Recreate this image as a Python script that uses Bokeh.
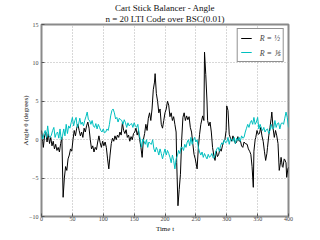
from bokeh.plotting import figure
from bokeh.models import Range1d, Title, Legend, LegendItem, FixedTicker
from bokeh.embed import file_html
from bokeh.resources import INLINE

# ---- data ----
t_half = [0, 2, 3, 5, 7, 9, 11, 13, 15, 17, 19, 21, 23, 25, 27, 29, 31, 33, 35, 37,
          39, 41, 43, 45, 47, 49, 51, 53, 55, 57, 59, 61, 63, 65, 67, 69, 71, 73, 75, 77,
          79, 81, 83, 85, 87, 89, 91, 93, 95, 97, 99, 101, 103, 105, 107, 109, 111, 113, 115, 117,
          119, 121, 123, 125, 127, 129, 131, 133, 135, 137, 139, 141, 143, 145, 147, 149, 151, 153, 155, 157,
          159, 161, 163, 165, 167, 169, 171, 173, 175, 177, 179, 181, 183, 184, 186, 188, 190, 192, 194, 196,
          198, 200, 202, 204, 206, 208, 210, 212, 214, 216, 218, 219, 221, 223, 225, 227, 229, 231, 233, 235,
          237, 239, 241, 243, 245, 247, 249, 252, 254, 256, 258, 261, 263, 264, 266, 268, 269, 271, 273, 275,
          277, 279, 281, 283, 285, 287, 289, 291, 293, 295, 297, 299, 300, 302, 304, 306, 308, 310, 312, 314,
          316, 318, 320, 322, 324, 326, 328, 330, 333, 335, 337, 339, 341, 343, 344, 346, 347, 349, 351, 353,
          355, 357, 359, 361, 363, 365, 366, 368, 370, 372, 373, 375, 377, 379, 381, 383, 385, 387, 388, 390,
          391, 393, 394, 396, 397, 399, 400]
angle_half = [1.2, -0.2, -1.0, 0.5, 1.0, -0.3, 0.8, -0.5, 0.3, -0.8, -0.2, -1.2, -0.6, -1.4, -1.0, -1.6, -0.5, 0.3, -7.5, -5.0,
              -3.5, -4.0, -2.5, -2.0, -1.2, -1.5, 0.0, 1.2, 0.5, 1.5, 2.0, 1.2, 0.5, 1.0, 0.3, 1.5, 1.0, 1.8, 2.3, 1.5,
              0.0, -1.2, -0.8, -1.6, -1.0, -1.3, -0.3, 0.5, -0.4, -1.0, -0.2, -0.8, -0.3, -1.0, -2.5, -3.8, -2.0, -0.5, 0.2, -0.2,
              0.5, 0.0, 0.6, 0.3, 1.0, 0.6, 2.2, 1.2, 0.8, 1.3, 0.3, 0.6, -0.2, 0.4, 0.0, 0.8, 1.0, 1.5, 0.6, 1.2,
              0.0, -1.0, -2.3, 0.0, 0.8, 2.0, 1.2, 2.8, 3.5, 2.5, 4.0, 6.5, 7.5, 8.6, 6.0, 5.0, 3.5, 4.0, 2.0, 1.5,
              2.5, 3.5, 4.0, 5.0, 4.5, 3.0, 3.5, 2.5, 3.0, 2.0, 1.0, -3.0, -8.6, -6.5, -4.5, 0.0, 2.9, 3.5, 2.5, 3.1,
              2.6, 3.0, 1.6, 1.0, -0.5, -1.9, -2.5, -3.8, -1.0, 0.7, 2.0, 3.1, 2.5, 11.4, 8.5, 5.0, 2.5, 1.8, 2.3, 1.0,
              -1.0, -2.0, -2.7, -1.5, -2.2, -1.9, -1.2, -1.5, -0.8, -0.2, 0.0, 1.2, 4.4, 3.8, 0.7, 0.2, -0.2, 0.5, 0.0, -0.5,
              -0.3, 0.4, -0.2, -0.1, -0.8, -1.0, -0.3, -0.5, -0.6, -1.2, -1.5, -1.9, -3.5, -6.2, -1.5, 0.0, 0.3, 1.2, 0.7, 0.8,
              1.6, 0.5, -0.2, -1.5, -2.7, -1.8, -1.0, 0.5, 1.6, 2.8, 3.6, 1.5, 0.3, 1.2, 0.5, -0.5, -4.0, -3.0, -2.3, -3.5,
              -3.6, -2.5, -2.6, -3.0, -4.9, -3.8, -3.6]

t_fifth = list(range(0, 401, 2))
angle_fifth = [0.7, 0.0, 0.8, 1.2, 0.3, 1.8, 0.5, 0.3, 0.6, 1.2, 1.6, 0.3, 0.8, 1.0, 0.2, 1.4, 0.0, 0.5, 1.4, 0.5,
               2.0, 0.8, 1.8, 1.5, 2.2, 2.9, 1.8, 2.5, 2.9, 1.6, 2.0, 2.8, 2.0, 2.3, 1.8, 2.5, 3.0, 3.6, 2.6, 2.5,
               2.0, 2.5, 1.8, 1.6, 2.1, 1.4, 2.0, 1.6, 1.2, 1.0, 1.4, 0.9, 1.0, 1.4, 1.2, 2.0, 3.1, 3.8, 4.0, 3.5,
               2.7, 2.9, 2.3, 2.8, 2.6, 2.5, 2.0, 2.6, 2.2, 1.6, 2.2, 1.8, 2.0, 2.1, 1.6, 2.2, 1.8, 1.6, 2.0, 0.8,
               0.0, -1.0, 0.1, -0.2, -0.6, 0.0, -1.0, -0.3, -0.5, -0.6, 0.0, -1.2, -1.6, -1.0, -1.4, -2.0, -1.2, -1.8, -2.5, -1.8,
               -1.2, -2.0, -1.4, -1.8, -2.3, -3.0, -2.0, -2.7, -3.8, -2.5, -2.1, -1.4, -1.8, -1.0, -1.0, -1.4, -0.6, -1.0, -0.3, 0.0,
               -0.8, 0.3, -0.6, 0.0, 0.3, -0.3, 0.0, -1.0, -1.6, -2.0, -1.6, -2.3, -1.8, -2.2, -2.5, -1.9, -2.3, -2.1, -1.8, -2.4,
               -2.3, -1.6, -1.2, -1.0, -1.5, -0.8, -0.4, -0.6, 0.0, -0.4, -0.3, 0.3, -0.6, 0.1, 0.0, -0.2, 0.3, -0.5, 0.2, -0.1,
               0.3, -0.2, 0.5, 0.2, 0.3, 1.0, 1.5, 2.0, 1.6, 2.2, 2.5, 2.0, 2.9, 2.0, 2.3, 2.9, 1.4, 2.0, 1.5, 1.2,
               1.6, 1.0, 1.3, 1.4, 0.8, 1.2, 2.0, 1.4, 1.5, 2.5, 1.6, 2.1, 2.2, 1.4, 2.1, 2.2, 2.0, 2.8, 3.6, 2.9,
               1.6]

x_ticks = [0, 50, 100, 150, 200, 250, 300, 350, 400]
y_ticks = [-10, -5, 0, 5, 10, 15]
title_1 = "Cart Stick Balancer - Angle"
title_2 = "n = 20 LTI Code over BSC(0.01)"
x_label = "Time t"
y_label = "Angle θ (degrees)"
label_half = "R = ½"
label_fifth = "R = ⅕"

SERIF = "Liberation Serif"

p = figure(width=320, height=240, output_backend="svg", toolbar_location=None,
           x_range=Range1d(0, 400), y_range=Range1d(-10, 15),
           min_border_left=41, min_border_right=32, min_border_top=24, min_border_bottom=24,
           background_fill_color="white", border_fill_color="white")
p.title.visible = False

# two-line title: the first added is nearest the frame
p.add_layout(Title(text=title_2, align="center", text_font=SERIF, text_font_size="9px",
                   text_font_style="normal", text_color="#111111", standoff=1, offset=0), "above")
p.add_layout(Title(text=title_1, align="center", text_font=SERIF, text_font_size="9px",
                   text_font_style="normal", text_color="#111111", standoff=-3, offset=0), "above")

# y label as a side title, pulled in toward the tick labels
p.add_layout(Title(text=y_label, align="center", text_font=SERIF, text_font_size="7px",
                   text_font_style="normal", text_color="#111111", standoff=-7, offset=0), "left")

p.outline_line_color = "#8a8a8a"
p.outline_line_width = 2

for ax in (p.xaxis[0], p.yaxis[0]):
    ax.axis_line_color = None
    ax.major_tick_out = 0
    ax.major_tick_in = 3
    ax.major_tick_line_color = "#555555"
    ax.minor_tick_line_color = None
    ax.major_label_text_font = SERIF
    ax.major_label_text_font_size = "6px"
    ax.major_label_text_color = "#444444"
    ax.axis_label_text_font = SERIF
    ax.axis_label_text_font_style = "normal"
    ax.axis_label_text_color = "#111111"

p.xaxis.ticker = FixedTicker(ticks=x_ticks)
p.yaxis.ticker = FixedTicker(ticks=y_ticks)
p.xaxis.major_label_standoff = 0
p.yaxis.major_label_standoff = 3
p.xaxis.axis_label = x_label
p.xaxis.axis_label_text_font_size = "7px"
p.xaxis.axis_label_standoff = 1

p.grid.grid_line_color = "#b0b0b0"
p.grid.grid_line_dash = "1 2"
p.grid.grid_line_width = 1

r1 = p.line(t_half, angle_half, line_color="#000000", line_width=1)
r2 = p.line(t_fifth, angle_fifth, line_color="#00bfbf", line_width=1)

legend = Legend(items=[LegendItem(label=label_half, renderers=[r1]),
                       LegendItem(label=label_fifth, renderers=[r2])],
                location="top_right", margin=4, padding=3, spacing=2,
                glyph_width=11, glyph_height=12, label_height=12, label_standoff=8,
                label_text_font=SERIF, label_text_font_style="italic",
                label_text_font_size="8px", border_line_color="#222222",
                border_line_width=1, background_fill_alpha=1.0)
p.add_layout(legend)

open("out.html", "w").write(file_html(p, INLINE))
